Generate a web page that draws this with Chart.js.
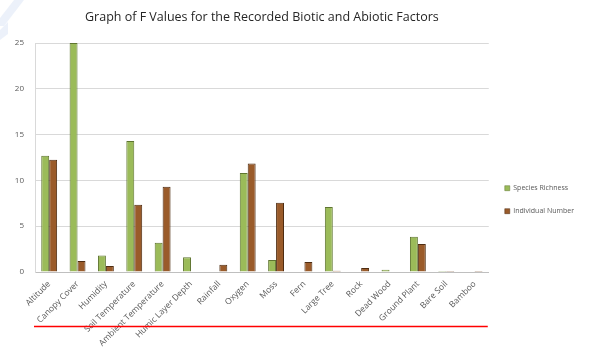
<!DOCTYPE html>
<html>
<head>
<meta charset="utf-8">
<script src="https://cdn.jsdelivr.net/npm/chart.js@4/dist/chart.umd.min.js"></script>
<style>
  html, body { margin: 0; padding: 0; background: #ffffff; }
  #wrap { width: 595px; height: 352px; position: relative; }
</style>
</head>
<body>
<div id="wrap"><canvas id="c" width="595" height="352"></canvas></div>
<script>
// Factors measured in the survey
const factors = [
  'Altitude', 'Canopy Cover', 'Humidity', 'Soil Temperature', 'Ambient Temperature',
  'Humic Layer Depth', 'Rainfall', 'Oxygen', 'Moss', 'Fern', 'Large Tree', 'Rock',
  'Dead Wood', 'Ground Plant', 'Bare Soil', 'Bamboo'
];

// F values for each response variable
const speciesRichness = [12.7, 25, 1.8, 14.3, 3.2, 1.6, 0.05, 10.8, 1.3, 0.05, 7.1, 0.05, 0.25, 3.85, 0.1, 0.05];
const individualNumber = [12.25, 1.2, 0.65, 7.35, 9.3, 0.05, 0.8, 11.85, 7.55, 1.1, 0.15, 0.45, 0.05, 3.05, 0.1, 0.1];

// Y axis tick values
const yTicks = [0, 5, 10, 15, 20, 25];

const labelColor = '#595959';

// Faint mark in the top-left corner and the red underline beneath the axis labels
const decorations = {
  id: 'decorations',
  beforeDraw(chart) {
    const ctx = chart.ctx;
    ctx.save();
    ctx.fillStyle = 'rgba(200,215,240,0.35)';
    ctx.beginPath();
    ctx.moveTo(14, 0); ctx.lineTo(24, 0); ctx.lineTo(4, 26); ctx.lineTo(0, 26); ctx.lineTo(0, 18);
    ctx.closePath();
    ctx.fill();
    ctx.beginPath();
    ctx.moveTo(0, 30); ctx.lineTo(8, 22); ctx.lineTo(8, 34); ctx.lineTo(0, 40);
    ctx.closePath();
    ctx.fill();
    ctx.restore();
  },
  afterDraw(chart) {
    const ctx = chart.ctx;
    const a = chart.chartArea;
    ctx.save();
    ctx.strokeStyle = '#ff0000';
    ctx.lineWidth = 1.5;
    ctx.beginPath();
    ctx.moveTo(a.left - 1, 326.5);
    ctx.lineTo(a.right - 1, 326.5);
    ctx.stroke();
    ctx.restore();
  }
};

new Chart(document.getElementById('c'), {
  type: 'bar',
  data: {
    labels: factors,
    datasets: [
      {
        label: 'Species Richness',
        data: speciesRichness,
        backgroundColor: '#9bbb59',
        borderColor: '#5f7530',
        borderWidth: 1,
        categoryPercentage: 0.56,
        barPercentage: 1.0
      },
      {
        label: 'Individual Number',
        data: individualNumber,
        backgroundColor: '#9a5b2a',
        borderColor: '#4f2d12',
        borderWidth: 1,
        categoryPercentage: 0.56,
        barPercentage: 1.0
      }
    ]
  },
  options: {
    responsive: false,
    animation: false,
    devicePixelRatio: 1,
    layout: { padding: { top: 8, right: 11, bottom: 0, left: 0 } },
    plugins: {
      title: {
        display: true,
        fullSize: false,
        text: 'Graph of F Values for the Recorded Biotic and Abiotic Factors',
        color: '#262626',
        font: { family: 'Open Sans', size: 12.5, weight: 'normal' },
        padding: { top: 2, bottom: 18 }
      },
      legend: {
        position: 'right',
        align: 'center',
        fullSize: false,
        title: { display: true, text: '', padding: { top: 0, bottom: 70 } },
        labels: {
          boxWidth: 5,
          boxHeight: 5,
          padding: 16,
          color: labelColor,
          font: { family: 'Open Sans', size: 7 },
          generateLabels(chart) {
            return chart.data.datasets.map((ds, i) => ({
              text: ds.label,
              fillStyle: ds.backgroundColor,
              strokeStyle: ds.borderColor,
              lineWidth: 0.5,
              fontColor: labelColor,
              datasetIndex: i,
              hidden: false
            }));
          }
        }
      },
      tooltip: { enabled: false }
    },
    scales: {
      x: {
        grid: { display: false, drawTicks: false },
        border: { display: true, color: '#bfbfbf' },
        ticks: {
          color: labelColor,
          font: { family: 'Open Sans', size: 8.5 },
          minRotation: 45,
          maxRotation: 45,
          autoSkip: false,
          padding: 7
        },
        afterFit(s) { s.height = 80; }
      },
      y: {
        min: 0,
        max: 25,
        afterBuildTicks(s) { s.ticks = yTicks.map(v => ({ value: v })); },
        grid: { color: '#d9d9d9', drawTicks: false },
        border: { display: true, color: '#d9d9d9' },
        ticks: {
          color: labelColor,
          font: { family: 'Open Sans', size: 8 },
          padding: 11
        },
        afterFit(s) { s.width = 35; }
      }
    }
  },
  plugins: [decorations]
});
</script>
</body>
</html>
